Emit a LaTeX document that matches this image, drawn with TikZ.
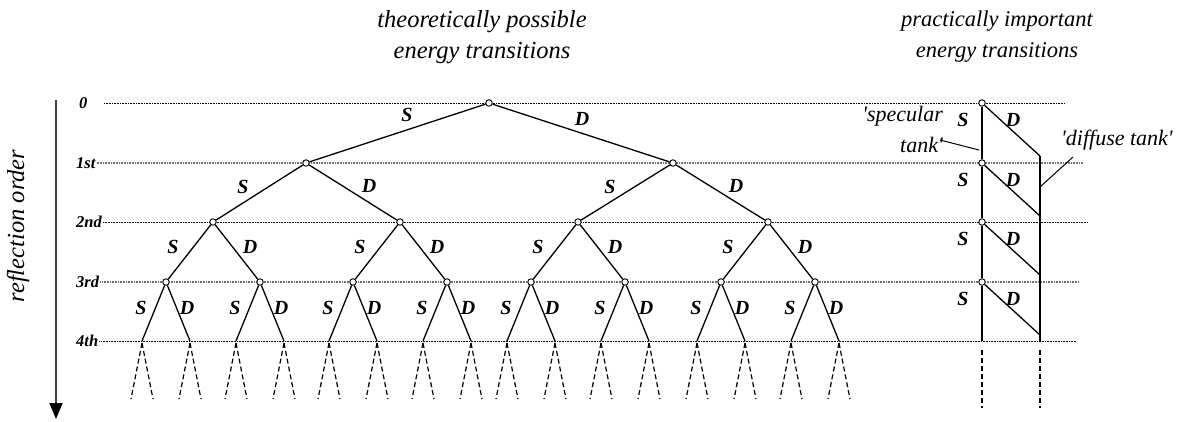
\documentclass[tikz,border=0pt]{standalone}
\usepackage{fontspec}
\setmainfont{Liberation Serif}
\usetikzlibrary{arrows.meta}
\begin{document}
\begin{tikzpicture}[x=1pt,y=-1pt,
  vtx/.style={circle, draw, fill=white, inner sep=0pt, minimum size=6.5pt, line width=0.9pt},
  edge/.style={line width=1.3pt},
  lvl/.style={dash pattern=on 1pt off 0.6pt, line width=0.7pt},
  lvlg/.style={dash pattern=on 1pt off 0.6pt, line width=1.1pt, black!55},
  dashedge/.style={line width=1.2pt, dash pattern=on 5pt off 3pt},
  lbl/.style={font=\fontsize{20}{20}\selectfont\bfseries\itshape, inner sep=0pt},
  ordl/.style={font=\fontsize{16.5}{16.5}\selectfont\bfseries\itshape, anchor=west, inner sep=0pt},
  ttl/.style={font=\fontsize{24.5}{31}\selectfont\itshape, align=center},
  ttlb/.style={font=\fontsize{22.5}{31}\selectfont\itshape, align=center},
  anno/.style={font=\fontsize{22}{31}\selectfont\itshape, inner sep=0pt},
  thin/.style={line width=1pt}]
\useasboundingbox (0,0) rectangle (1181,421);

% titles
\node[ttl] (t1) at (482,37) {theoretically possible\\energy transitions};
\node[ttlb] (t2) at (997,37) {practically important\\energy transitions};

% reflection order axis
\coordinate (ax0) at (56,100);
\coordinate (ax1) at (56,419);
\draw[line width=2.2pt, black!75, -{Triangle[length=16pt,width=13pt,color=black,fill=black]}] (ax0) -- (ax1);
\node[font=\fontsize{24.5}{24.5}\selectfont\itshape, rotate=90] (ro) at (18,226) {reflection order};

% level labels and lines
\node[ordl] (L0) at (79,103) {0};
\node[ordl] (L1) at (76,163) {1st};
\node[ordl] (L2) at (76,222) {2nd};
\node[ordl] (L3) at (76,282) {3rd};
\node[ordl] (L4) at (76,341) {4th};
\draw[lvl] (104,103) -- (1065,103);
\draw[lvlg] ([xshift=1pt]L1.east) -- (1083,163);
\draw[lvl] ([xshift=1pt]L2.east) -- (1088,222);
\draw[lvlg] ([xshift=1pt]L3.east) -- (1078,282);
\draw[lvl] ([xshift=1pt]L4.east) -- (1077,341);

% tree nodes
\node[vtx] (r) at (489,103) {};
\foreach \n/\x in {1/306,2/673} \node[vtx] (a\n) at (\x,163) {};
\foreach \n/\x in {1/213,2/400,3/578,4/768} \node[vtx] (b\n) at (\x,222) {};
\foreach \n/\x in {1/166,2/260,3/353,4/447,5/531,6/625,7/721,8/815} {
  \node[vtx] (c\n) at (\x,282) {};
  \coordinate (c\n L) at (\x-24,341);
  \coordinate (c\n R) at (\x+24,341);
}

% level 0 -> 1
\draw[edge] (r) -- (a1);
\draw[edge] (r) -- (a2);
\node[lbl] at ([shift={(-82,12)}]r.center) {S};
\node[lbl] at ([shift={(93,16)}]r.center) {D};
% level 1 -> 2
\foreach \p/\l/\q in {a1/b1/b2, a2/b3/b4} {
  \draw[edge] (\p) -- (\l);
  \draw[edge] (\p) -- (\q);
  \node[lbl] at ([shift={(-63,24)}]\p.center) {S};
  \node[lbl] at ([shift={(63,23)}]\p.center) {D};
}
% level 2 -> 3
\foreach \p/\l/\q in {b1/c1/c2, b2/c3/c4, b3/c5/c6, b4/c7/c8} {
  \draw[edge] (\p) -- (\l);
  \draw[edge] (\p) -- (\q);
  \node[lbl] at ([shift={(-40,25)}]\p.center) {S};
  \node[lbl] at ([shift={(37,25)}]\p.center) {D};
}
% level 3 -> 4 and dashed continuations
\foreach \n in {1,...,8} {
  \draw[edge] (c\n) -- (c\n L);
  \draw[edge] (c\n) -- (c\n R);
  \node[lbl] at ([shift={(-25,26)}]c\n.center) {S};
  \node[lbl] at ([shift={(21,26)}]c\n.center) {D};
  \draw[dashedge] (c\n L) ++(0,2) -- ++(-11,56);
  \draw[dashedge] (c\n L) ++(0,2) -- ++(11,56);
  \draw[dashedge] (c\n R) ++(0,2) -- ++(-11,56);
  \draw[dashedge] (c\n R) ++(0,2) -- ++(11,56);
}

% practical tanks
\foreach \n/\y in {0/103,1/163,2/222,3/282} \node[vtx] (t\n) at (982,\y) {};
\coordinate (t4) at (982,341);
\foreach \n/\y in {1/156,2/216,3/275,4/335} \coordinate (u\n) at (1040,\y);
\coordinate (u5) at (1040,341);
\draw[edge] (t0) -- (t1);
\draw[edge] (t1) -- (t2);
\draw[edge] (t2) -- (t3);
\draw[edge] (t3) -- (t4);
\draw[edge] (t0) -- (u1);
\draw[edge] (t1) -- (u2);
\draw[edge] (t2) -- (u3);
\draw[edge] (t3) -- (u4);
\draw[edge] (u1) -- (u5);
\foreach \n in {0,1,2,3} {
  \node[lbl] at ([shift={(-19,17)}]t\n.center) {S};
  \node[lbl] at ([shift={(31,17)}]t\n.center) {D};
}
\coordinate (tS0) at (982,350);
\coordinate (tS1) at (982,408);
\coordinate (tD0) at (1040,350);
\coordinate (tD1) at (1040,408);
\draw[dashedge] (tS0) -- (tS1);
\draw[dashedge] (tD0) -- (tD1);

% annotations
\node[anno, align=right, anchor=east] (spec) at (943,129) {\textquotesingle specular\\tank\textquotesingle};
\node[anno, anchor=west] (diff) at (1061,140) {\textquotesingle diffuse tank\textquotesingle};
\coordinate (sp0) at (940,140);
\coordinate (sp1) at (979,150);
\coordinate (df0) at (1040,187);
\coordinate (df1) at (1073,157);
\draw[thin] (sp0) -- (sp1);
\draw[thin] (df0) -- (df1);
\end{tikzpicture}
\end{document}
